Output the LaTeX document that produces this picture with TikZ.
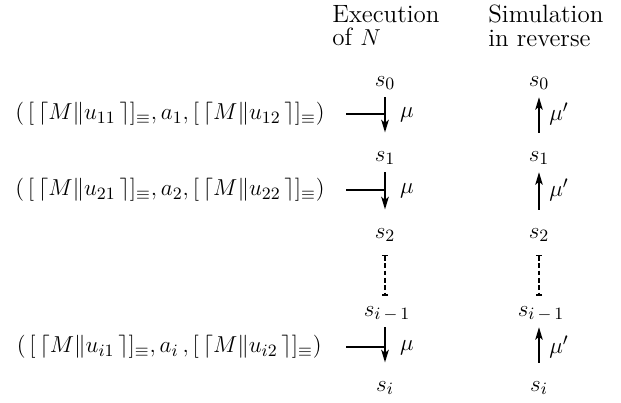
\documentclass[tikz,border=0pt]{standalone}
\usetikzlibrary{arrows.meta}
\tikzset{
  big/.style={font=\fontsize{12.2}{14}\selectfont},
  st/.style={big, inner sep=0pt, text height=5.2pt, text depth=1.9pt},
  lab/.style={big, inner sep=0pt, anchor=east},
  hdr/.style={inner sep=0pt, anchor=north west, align=left, font=\fontsize{13}{12}\selectfont},
  exe/.style={line width=1.5pt, -{Stealth[length=6.5pt,width=3.8pt,inset=1.5pt]}, shorten <=3.6pt, shorten >=9.5pt},
  sim/.style={line width=1.2pt, -{Stealth[length=6.5pt,width=3.8pt,inset=1.5pt]}, shorten <=9.5pt, shorten >=3.6pt},
  hor/.style={line width=1.3pt},
  dots/.style={line width=1.3pt, dash pattern=on 2.4pt off 1.4pt, {Bar[width=3.2pt,line width=0.9pt]}-{Bar[width=3.2pt,line width=0.9pt]}, shorten <=6.5pt, shorten >=5pt},
  lbl/.style={big, inner sep=0pt}
}
\begin{document}
\begin{tikzpicture}[x=0.52pt,y=-0.52pt]
\useasboundingbox (0,0) rectangle (621,403);
% headers
\node[hdr] (h1) at (332,5) {Execution\\of $N$};
\node[hdr] (h2) at (488,5) {Simulation\\in reverse};
% left column states
\node[st] (L0) at (385,83) {$s_0$};
\node[st] (L1) at (385,158) {$s_1$};
\node[st] (L2) at (385,235) {$s_2$};
\node[st] (L3) at (387,313) {$s_{i\,-\,1}$};
\node[st] (L4) at (385,388) {$s_i$};
% right column states
\node[st] (R0) at (539,83) {$s_0$};
\node[st] (R1) at (539,158) {$s_1$};
\node[st] (R2) at (539,235) {$s_2$};
\node[st] (R3) at (541,313) {$s_{i\,-\,1}$};
\node[st] (R4) at (539,388) {$s_i$};
% transition labels
\node[lab] (a1) at (325,114) {$(\,[\,\lceil M\|u_{11}\,\rceil]_\equiv, a_1, [\,\lceil M\|u_{12}\,\rceil]_\equiv)$};
\node[lab] (a2) at (325,190) {$(\,[\,\lceil M\|u_{21}\,\rceil]_\equiv, a_2, [\,\lceil M\|u_{22}\,\rceil]_\equiv)$};
\node[lab] (a3) at (322,347) {$(\,[\,\lceil M\|u_{i1}\,\rceil]_\equiv, a_i\,, [\,\lceil M\|u_{i2}\,\rceil]_\equiv)$};
% joining points
\coordinate (b1) at (346,114); \coordinate (m1) at (385,114);
\coordinate (b2) at (346,190); \coordinate (m2) at (385,190);
\coordinate (b3) at (346,347); \coordinate (m3) at (385,347);
\draw[hor] (b1) -- (m1);
\draw[hor] (b2) -- (m2);
\draw[hor] (b3) -- (m3);
% execution arrows
\draw[exe] (L0.south -| m1) -- (L1.north -| m1);
\draw[exe] (L1.south -| m2) -- (L2.north -| m2);
\draw[dots] (L2.south -| m2) -- (L3.north -| m3);
\draw[exe] (L3.south -| m3) -- (L4.north -| m3);
% simulation arrows
\draw[sim] (R1.north -| R0) -- (R0.south);
\draw[sim] (R2.north -| R0) -- (R1.south);
\draw[dots,line width=1pt] (R2.south) -- (R3.north -| R2);
\draw[sim] (R4.north) -- (R3.south -| R4);
% mu labels
\node[lbl] (mu1) at (407,115) {$\mu$};
\node[lbl] (mu2) at (407,191) {$\mu$};
\node[lbl] (mu3) at (407,348) {$\mu$};
\node[lbl] (mp1) at (559,114) {$\mu'$};
\node[lbl] (mp2) at (559,190) {$\mu'$};
\node[lbl] (mp3) at (559,347) {$\mu'$};
\end{tikzpicture}
\end{document}
